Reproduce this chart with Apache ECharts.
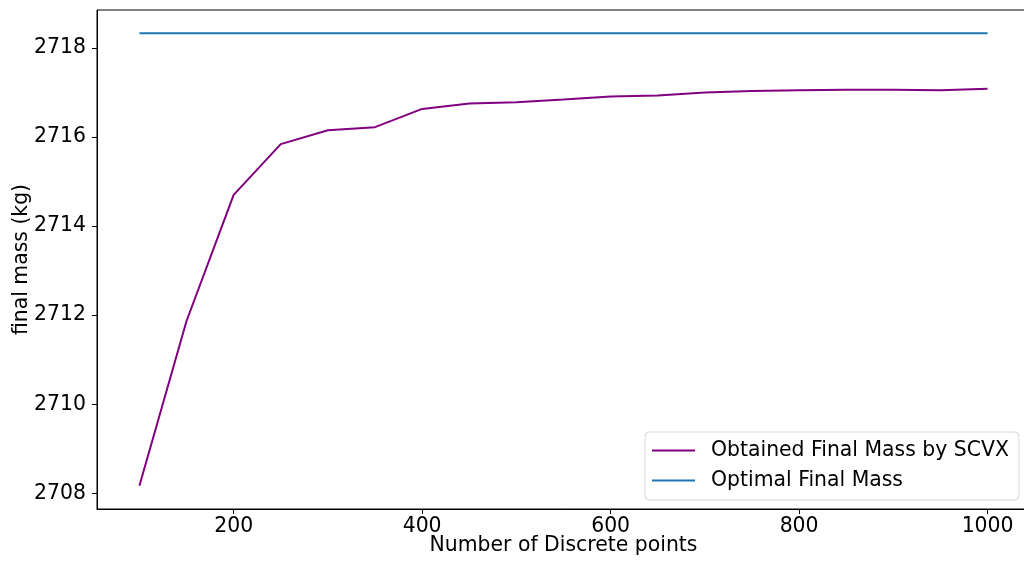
<!DOCTYPE html>
<html>
<head>
<meta charset="utf-8">
<script src="https://cdn.jsdelivr.net/npm/echarts@6/dist/echarts.min.js"></script>
<style>
html,body{margin:0;padding:0;background:#fff;}
#c{width:1024px;height:565px;}
</style>
</head>
<body>
<div id="c"></div>
<script>
var discretePoints = [100,150,200,250,300,350,400,450,500,550,600,650,700,750,800,850,900,950,1000];
var obtainedMass = [2708.17,2711.87,2714.70,2715.84,2716.15,2716.22,2716.63,2716.75,2716.78,2716.84,2716.91,2716.93,2717.00,2717.03,2717.05,2717.06,2717.06,2717.05,2717.08];
var optimalMass = 2718.33;
var xTicks = [200,400,600,800,1000];
var yTicks = [2708,2710,2712,2714,2716,2718];
var seriesNames = ['Obtained Final Mass by SCVX','Optimal Final Mass'];

var obtainedData = discretePoints.map(function(x,i){return [x, obtainedMass[i]];});
var optimalData = discretePoints.map(function(x){return [x, optimalMass];});

var FONT = 'DejaVu Sans';
var FS = 20.4;
var chart = echarts.init(document.getElementById('c'), null, {renderer:'canvas'});
chart.setOption({
  animation:false,
  backgroundColor:'#ffffff',
  textStyle:{fontFamily:FONT},
  grid:{left:97, right:-6, top:10, bottom:56, show:true, borderColor:'#000', borderWidth:1,
        backgroundColor:'transparent', containLabel:false, outerBoundsMode:'none'},
  legend:{
    orient:'vertical', left:645, top:432,
    padding:[8,10,9,7],
    itemWidth:43, itemHeight:2, itemGap:9,
    icon:'rect',
    borderColor:'rgba(204,204,204,0.8)', borderWidth:1, borderRadius:4,
    backgroundColor:'rgba(255,255,255,0.8)',
    textStyle:{fontFamily:FONT, fontSize:FS, color:'#000', lineHeight:21, padding:[0,0,0,11]},
    data:seriesNames
  },
  xAxis:{
    type:'value', min:55, max:1045,
    name:'Number of Discrete points', nameLocation:'middle', nameGap:27, nameMoveOverlap:false,
    nameTextStyle:{fontFamily:FONT, fontSize:FS, color:'#000'},
    axisLine:{show:true, lineStyle:{color:'#000', width:1}},
    axisTick:{show:true, length:5, lineStyle:{color:'#000', width:1}, customValues:xTicks},
    axisLabel:{fontFamily:FONT, fontSize:FS, color:'#000', margin:8, customValues:xTicks,
               formatter:function(v){return String(v);}},
    splitLine:{show:false}
  },
  yAxis:{
    type:'value', min:2707.65, max:2718.85,
    name:'final mass (kg)', nameLocation:'middle', nameGap:65, nameMoveOverlap:false,
    nameTextStyle:{fontFamily:FONT, fontSize:FS, color:'#000'},
    axisLine:{show:true, lineStyle:{color:'#000', width:1}},
    axisTick:{show:true, length:5, lineStyle:{color:'#000', width:1}, customValues:yTicks},
    axisLabel:{fontFamily:FONT, fontSize:FS, color:'#000', margin:11, customValues:yTicks,
               formatter:function(v){return String(v);}},
    splitLine:{show:false}
  },
  series:[
    {name:seriesNames[0], type:'line', data:obtainedData, showSymbol:false, symbol:'none',
     lineStyle:{color:'#800080', width:2}, itemStyle:{color:'#800080'}},
    {name:seriesNames[1], type:'line', data:optimalData, showSymbol:false, symbol:'none',
     lineStyle:{color:'#1f77b4', width:2}, itemStyle:{color:'#1f77b4'}}
  ]
});
</script>
</body>
</html>
